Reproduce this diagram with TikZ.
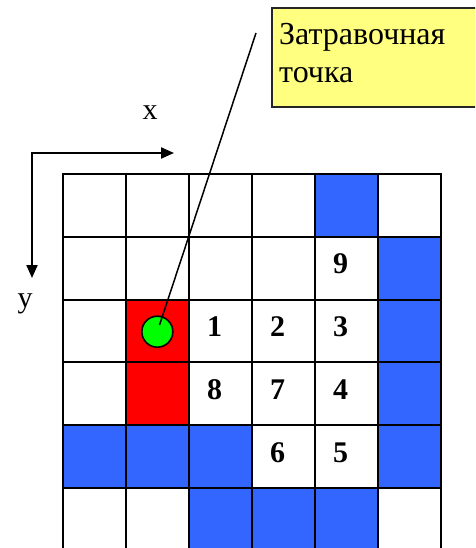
\documentclass[tikz,border=0pt]{standalone}
\usepackage{fontspec}
\setmainfont{Liberation Serif}
\usetikzlibrary{arrows.meta}
\definecolor{cellblue}{HTML}{3366FF}
\definecolor{cellred}{HTML}{FF0000}
\definecolor{seedgreen}{HTML}{00FF00}
\definecolor{noteyellow}{HTML}{FFFF80}
\tikzset{
  gridline/.style={draw=black, line width=2pt},
  num/.style={inner sep=0pt, font=\fontsize{30}{36}\selectfont\bfseries},
  lbl/.style={inner sep=0pt, font=\fontsize{30}{36}\selectfont},
  note/.style={inner sep=0pt, font=\fontsize{32}{38}\selectfont},
  seedpt/.style={circle, draw=black, line width=1.6pt, fill=seedgreen, minimum size=31pt, inner sep=0pt},
  axis/.style={line width=2pt, {Triangle[length=13pt,width=11pt]}-{Triangle[length=13pt,width=11pt]}},
}
\begin{document}
\begin{tikzpicture}[x=1pt,y=-1pt]
\useasboundingbox (0,0) rectangle (475,548);
\clip (0,0) rectangle (475,548);
% blue cells
\foreach \c/\r in {4/0,5/1,5/2,5/3,0/4,1/4,2/4,5/4,2/5,3/5,4/5}
  \fill[cellblue] ({63+63*\c},{174+62.8*\r}) rectangle ++(63,62.8);
% red cells
\foreach \c/\r in {1/2,1/3}
  \fill[cellred] ({63+63*\c},{174+62.8*\r}) rectangle ++(63,62.8);
% grid
\foreach \i in {0,...,6}
  \draw[gridline] ({63+63*\i},173) -- ({63+63*\i},560);
\foreach \j in {0,...,5}
  \draw[gridline] (62,{174+62.8*\j}) -- (442,{174+62.8*\j});
% numbers
\node[num] (n9) at ({57+63*4.5},{170+62.8*1.5}) {9};
\node[num] (n1) at ({57+63*2.5},{170+62.8*2.5}) {1};
\node[num] (n2) at ({57+63*3.5},{170+62.8*2.5}) {2};
\node[num] (n3) at ({57+63*4.5},{170+62.8*2.5}) {3};
\node[num] (n8) at ({57+63*2.5},{170+62.8*3.5}) {8};
\node[num] (n7) at ({57+63*3.5},{170+62.8*3.5}) {7};
\node[num] (n4) at ({57+63*4.5},{170+62.8*3.5}) {4};
\node[num] (n6) at ({57+63*3.5},{170+62.8*4.5}) {6};
\node[num] (n5) at ({57+63*4.5},{170+62.8*4.5}) {5};
% axes
\coordinate (corner) at (32,153);
\coordinate (xend) at (174,153);
\coordinate (yend) at (32,278);
\draw[axis] (xend) -- (corner) -- (yend);
\node[lbl] (xlab) at (150,113) {x};
\node[lbl] (ylab) at (25,304) {y};
% callout
\draw[fill=noteyellow, draw=black!85, line width=2pt] (272,8) rectangle (490,107);
\node[note, anchor=base west] (t1) at (279,45) {Затравочная};
\node[note, anchor=base west] (t2) at (279,83) {точка};
% seed point and leader
\node[seedpt] (seed) at (157.3,331.7) {};
\coordinate (tip) at (256,33);
\draw[line width=1.5pt, shorten <=7pt] (seed.center) -- (tip);
\end{tikzpicture}
\end{document}
